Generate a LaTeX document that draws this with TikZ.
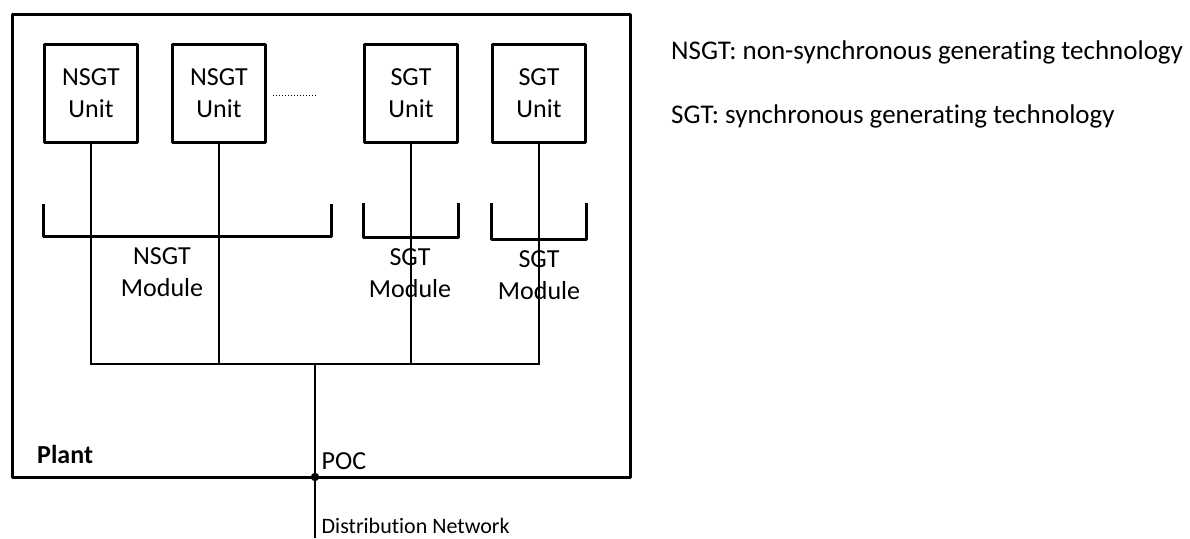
\documentclass[tikz,border=0pt]{standalone}
\usepackage{fontspec}
\setmainfont{Carlito}[Ligatures={NoCommon}]
\begin{document}
\begin{tikzpicture}[x=1pt,y=-1pt,
  unitbox/.style={draw,line width=3pt,line join=round,minimum width=93.5pt,minimum height=98pt,inner sep=0pt,align=center,font=\fontsize{26}{32}\selectfont},
  modlabel/.style={inner sep=0pt,align=center,font=\fontsize{26}{32}\selectfont},
  bracketline/.style={line width=3pt,line join=round},
  wire/.style={line width=1.6pt},
  txt/.style={inner sep=0pt,anchor=base west,font=\fontsize{26}{32}\selectfont}]
\useasboundingbox (0,0) rectangle (1190,538);
% plant frame
\draw[line width=3pt,line join=round] (12.5,14) rectangle (630.5,477);
% units
\node[unitbox] (u1) at (91,93.5) {NSGT\\Unit};
\node[unitbox] (u2) at (219,93.5) {NSGT\\Unit};
\node[unitbox] (u3) at (411,93.5) {SGT\\Unit};
\node[unitbox] (u4) at (539,93.5) {SGT\\Unit};
\draw[line width=1pt,dotted] (273,95) -- (317,95);
% brackets
\draw[bracketline] (43.5,204) -- (43.5,236) -- (331,236) -- (331,204);
\draw[bracketline] (363.5,203) -- (363.5,237.5) -- (458,237.5) -- (458,203);
\draw[bracketline] (491.5,203) -- (491.5,239) -- (586,239) -- (586,203);
% module labels
\node[modlabel] (m1) at (162,272.6) {NSGT\\Module};
\node[modlabel] (m2) at (410,273) {SGT\\Module};
\node[modlabel] (m3) at (539,275) {SGT\\Module};
% bus
\coordinate (busy) at (0,364);
\coordinate (bl) at (u1.south |- busy);
\coordinate (br) at (u4.south |- busy);
\coordinate (bc) at (315,364);
\coordinate (poc) at (315,477);
\coordinate (dn) at (315,538);
\draw[wire] (u1.south) -- (bl) -- (br) -- (u4.south);
\draw[wire] (u2.south) -- (u2.south |- busy);
\draw[wire] (u3.south) -- (u3.south |- busy);
\draw[wire] (bc) -- (poc) -- (dn);
\fill (poc) circle (4.2);
% labels
\node[txt,font=\fontsize{26}{32}\selectfont\bfseries] (plant) at (37,463.3) {Plant};
\node[txt] (poclbl) at (321.5,469.3) {POC};
\node[txt,font=\fontsize{22}{26}\selectfont] (dnlbl) at (321.5,533) {Distribution Network};
\node[txt,font=\fontsize{27}{32}\selectfont] (leg1) at (671,59.3) {NSGT: non-synchronous generating technology};
\node[txt,font=\fontsize{27}{32}\selectfont] (leg2) at (671,123.3) {SGT: synchronous generating technology};
\end{tikzpicture}
\end{document}
